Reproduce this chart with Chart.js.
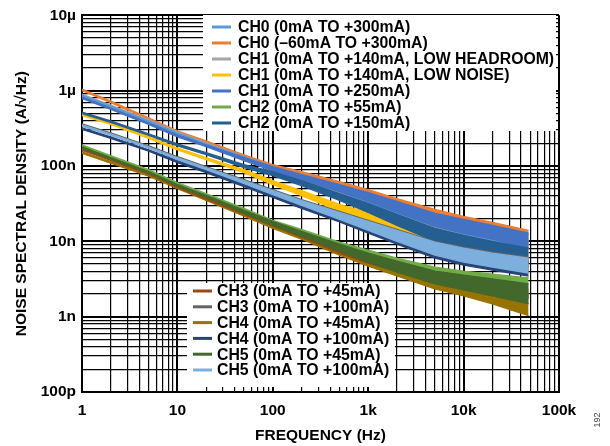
<!DOCTYPE html>
<html>
<head>
<meta charset="utf-8">
<script src="https://cdn.jsdelivr.net/npm/chart.js@4.4.1/dist/chart.umd.min.js"></script>
<style>
  html, body { margin: 0; padding: 0; background: #fff; }
  #wrap { width: 610px; height: 446px; position: relative; }
</style>
</head>
<body>
<div id="wrap"><canvas id="myChart" width="610" height="446"></canvas></div>
<script>
// frequency points (Hz)
const freq = [1, 2, 5, 10, 20, 50, 100, 200, 500, 1000, 2000, 5000, 10000, 20000, 48000];

// upper (hi) and lower (lo) edge of each noise trace, nA/√Hz
const ch0_300_hi = [872, 624, 396, 275, 197, 133, 97.9, 76.8, 56.7, 43.1, 32.8, 23.5, 19.0, 15.8, 12.4];
const ch0_300_lo = [833, 596, 378, 259, 185, 121, 86.7, 66.0, 45.8, 32.8, 23.5, 15.8, 12.4, 10.3, 7.86];
const ch0_60_hi = [1047, 727, 434, 292, 216, 141, 104, 84.1, 62.1, 48.7, 37.0, 26.5, 21.4, 17.9, 14.0];
const ch0_60_lo = [1000, 694, 414, 275, 203, 129, 92.1, 72.2, 50.2, 37.1, 26.5, 17.9, 14.0, 11.7, 8.88];
const ch1_lh_hi = [899, 644, 408, 283, 203, 133, 95.0, 70.1, 48.7, 37.0, 28.2, 19.0, 15.3, 12.8, 10.3];
const ch1_lh_lo = [859, 615, 390, 266, 191, 121, 84.2, 60.2, 39.4, 28.2, 20.2, 12.8, 10.0, 8.37, 6.53];
const ch1_ln_hi = [490, 373, 243, 174, 129, 89.4, 64.0, 47.2, 30.9, 24.2, 18.4, 12.8, 10.3, 8.62, 7.18];
const ch1_ln_lo = [468, 356, 232, 164, 121, 81.6, 56.7, 40.5, 25.0, 18.4, 13.2, 8.63, 6.74, 5.64, 4.55];
const ch1_250_hi = [821, 588, 373, 259, 191, 129, 97.9, 76.8, 56.7, 44.4, 33.8, 23.5, 19.6, 16.3, 12.8];
const ch1_250_lo = [784, 562, 356, 244, 180, 118, 86.7, 66.0, 45.8, 33.8, 24.2, 15.8, 12.8, 10.7, 8.12];
const ch2_55_hi = [191, 137, 89.4, 60.2, 43.1, 27.3, 19.0, 14.4, 9.73, 7.63, 5.98, 4.55, 4.03, 3.68, 3.26];
const ch2_55_lo = [182, 131, 85.4, 56.6, 40.6, 24.9, 16.8, 12.4, 7.86, 5.81, 4.28, 3.07, 2.56, 2.20, 1.78];
const ch2_150_hi = [520, 396, 267, 197, 150, 104, 84.1, 64.0, 43.1, 31.8, 22.8, 14.9, 12.0, 10.0, 8.11];
const ch2_150_lo = [497, 378, 255, 185, 141, 95.0, 74.5, 55.0, 34.8, 24.2, 16.3, 10.0, 7.85, 6.54, 5.14];
const ch3_45_hi = [169, 125, 81.6, 55.0, 38.2, 24.9, 17.9, 13.2, 8.62, 6.56, 5.14, 3.80, 3.26, 2.80, 2.26];
const ch3_45_lo = [161, 119, 77.9, 51.8, 35.9, 22.7, 15.9, 11.3, 6.97, 5.14, 4.03, 2.98, 2.56, 2.20, 1.78];
const ch3_100_hi = [361, 275, 185, 133, 97.9, 66.0, 48.7, 35.9, 24.9, 19.0, 14.4, 10.0, 8.36, 7.18, 6.17];
const ch3_100_lo = [345, 263, 177, 125, 92.1, 60.3, 43.1, 30.8, 20.1, 14.5, 10.3, 6.74, 5.47, 4.70, 3.91];
const ch4_45_hi = [154, 114, 76.8, 53.3, 37.0, 23.5, 16.8, 12.4, 8.11, 6.17, 4.84, 3.46, 2.98, 2.48, 1.89];
const ch4_45_lo = [147, 109, 73.3, 50.2, 34.8, 21.5, 14.9, 10.7, 6.56, 4.69, 3.47, 2.33, 1.89, 1.48, 1.03];
const ch4_100_hi = [320, 243, 164, 117.5, 86.7, 58.4, 43.1, 31.8, 22.4, 16.8, 12.8, 8.88, 7.40, 6.36, 5.46];
const ch4_100_lo = [306, 232, 157, 111, 81.6, 53.3, 38.2, 27.3, 18.1, 12.8, 9.16, 5.99, 4.84, 4.16, 3.46];
const ch5_45_hi = [180, 129, 84.1, 56.7, 40.6, 25.7, 18.4, 13.6, 9.16, 6.97, 5.46, 4.03, 3.57, 3.16, 2.72];
const ch5_45_lo = [172, 123, 80.3, 53.4, 38.2, 23.5, 16.3, 11.7, 7.40, 5.30, 3.91, 2.72, 2.26, 1.89, 1.48];
const ch5_100_hi = [351, 267, 180, 129, 95.0, 64.0, 47.2, 34.8, 24.2, 18.4, 14.0, 9.73, 8.11, 6.97, 5.98];
const ch5_100_lo = [335, 255, 172, 121, 89.4, 58.4, 41.8, 29.9, 19.6, 14.0, 10.0, 6.56, 5.30, 4.56, 3.79];

const xTickValues = [1, 10, 100, 1000, 10000, 100000];
const xTickLabels = ['1', '10', '100', '1k', '10k', '100k'];
const yTickValues = [1e-10, 1e-9, 1e-8, 1e-7, 1e-6, 1e-5];
const yTickLabels = ['100p', '1n', '10n', '100n', '1µ', '10µ'];

const series = {
  ch0_300: { label: 'CH0 (0mA TO +300mA)', color: '#5B9BD5', hi: ch0_300_hi, lo: ch0_300_lo },
  ch0_60: { label: 'CH0 (–60mA TO +300mA)', color: '#ED7D31', hi: ch0_60_hi, lo: ch0_60_lo },
  ch1_lh: { label: 'CH1 (0mA TO +140mA, LOW HEADROOM)', color: '#A5A5A5', hi: ch1_lh_hi, lo: ch1_lh_lo },
  ch1_ln: { label: 'CH1 (0mA TO +140mA, LOW NOISE)', color: '#FFC000', hi: ch1_ln_hi, lo: ch1_ln_lo },
  ch1_250: { label: 'CH1 (0mA TO +250mA)', color: '#4472C4', hi: ch1_250_hi, lo: ch1_250_lo },
  ch2_55: { label: 'CH2 (0mA TO +55mA)', color: '#70AD47', hi: ch2_55_hi, lo: ch2_55_lo },
  ch2_150: { label: 'CH2 (0mA TO +150mA)', color: '#255E91', hi: ch2_150_hi, lo: ch2_150_lo },
  ch3_45: { label: 'CH3 (0mA TO +45mA)', color: '#9E480E', hi: ch3_45_hi, lo: ch3_45_lo },
  ch3_100: { label: 'CH3 (0mA TO +100mA)', color: '#636363', hi: ch3_100_hi, lo: ch3_100_lo },
  ch4_45: { label: 'CH4 (0mA TO +45mA)', color: '#997300', hi: ch4_45_hi, lo: ch4_45_lo },
  ch4_100: { label: 'CH4 (0mA TO +100mA)', color: '#264478', hi: ch4_100_hi, lo: ch4_100_lo },
  ch5_45: { label: 'CH5 (0mA TO +45mA)', color: '#43682B', hi: ch5_45_hi, lo: ch5_45_lo },
  ch5_100: { label: 'CH5 (0mA TO +100mA)', color: '#7CAFDD', hi: ch5_100_hi, lo: ch5_100_lo }
};
const legendTop = ['ch0_300', 'ch0_60', 'ch1_lh', 'ch1_ln', 'ch1_250', 'ch2_55', 'ch2_150'];
const legendBottom = ['ch3_45', 'ch3_100', 'ch4_45', 'ch4_100', 'ch5_45', 'ch5_100'];

// stacking: first = painted first (underneath)
const paintOrder = ['ch0_60', 'ch1_lh', 'ch0_300', 'ch1_250', 'ch1_ln', 'ch2_150', 'ch4_100',
  'ch3_100', 'ch5_100', 'ch2_55', 'ch4_45', 'ch3_45', 'ch5_45'];

const FONT = '"Liberation Sans", Arial, sans-serif';

const datasets = [];
paintOrder.forEach((key, rank) => {
  const s = series[key];
  const ord = paintOrder.length - rank;
  const pts = arr => arr.map((v, i) => ({ x: freq[i], y: v * 1e-9 }));
  datasets.push({
    label: s.label, data: pts(s.hi), borderColor: s.color, backgroundColor: s.color,
    borderWidth: 1.3, pointRadius: 0, fill: '+1', order: ord
  });
  datasets.push({
    label: s.label + ' lo', data: pts(s.lo), borderColor: s.color, backgroundColor: s.color,
    borderWidth: 1.3, pointRadius: 0, fill: false, order: ord
  });
});

const isDecade = v => Math.abs(Math.log10(v) - Math.round(Math.log10(v))) < 1e-6;

function logTicks(minExp, maxExp) {
  const t = [];
  for (let e = minExp; e < maxExp; e++) {
    for (let m = 1; m <= 9; m++) t.push({ value: m * Math.pow(10, e) });
  }
  t.push({ value: Math.pow(10, maxExp) });
  return t;
}

function labelFor(values, labels, v) {
  for (let i = 0; i < values.length; i++) {
    if (Math.abs(Math.log10(v) - Math.log10(values[i])) < 1e-6) return labels[i];
  }
  return '';
}

const boxLegends = {
  id: 'boxLegends',
  afterDatasetsDraw(chart) {
    const ctx = chart.ctx;
    const boxes = [
      { keys: legendTop, x: 203, y: 15, w: 353, h: 116, row0: 27, step: 16, l0: 212, l1: 231, tx: 238 },
      { keys: legendBottom, x: 187, y: 283, w: 208, h: 104, row0: 291, step: 15.8, l0: 193, l1: 212, tx: 217 }
    ];
    ctx.save();
    boxes.forEach(b => {
      ctx.fillStyle = '#fff';
      ctx.fillRect(b.x, b.y, b.w, b.h);
      ctx.font = 'bold 15.8px ' + FONT;
      ctx.textBaseline = 'middle';
      ctx.textAlign = 'left';
      b.keys.forEach((k, i) => {
        const y = b.row0 + i * b.step;
        ctx.strokeStyle = series[k].color;
        ctx.lineWidth = 3;
        ctx.beginPath();
        ctx.moveTo(b.l0, y);
        ctx.lineTo(b.l1, y);
        ctx.stroke();
        ctx.fillStyle = '#000';
        ctx.fillText(series[k].label, b.tx, y + 1);
      });
    });
    // figure number at the right edge
    ctx.translate(598, 420);
    ctx.rotate(-Math.PI / 2);
    ctx.font = '9px ' + FONT;
    ctx.fillStyle = '#444';
    ctx.textAlign = 'center';
    ctx.fillText('192', 0, 0);
    ctx.restore();
  }
};

const ctx = document.getElementById('myChart').getContext('2d');
new Chart(ctx, {
  type: 'line',
  data: { datasets },
  options: {
    responsive: false,
    animation: false,
    devicePixelRatio: 1,
    layout: { padding: { top: 14, right: 51, bottom: 0, left: 0 } },
    plugins: {
      legend: { display: false },
      tooltip: { enabled: false },
      filler: { drawTime: 'beforeDatasetDraw' }
    },
    elements: { line: { tension: 0 } },
    scales: {
      x: {
        type: 'logarithmic', min: 1, max: 100000,
        afterBuildTicks: s => { s.ticks = logTicks(0, 5); },
        afterFit: s => { s.height = 54; },
        grid: {
          color: '#000', drawTicks: false,
          lineWidth: c => (c.tick && isDecade(c.tick.value)) ? 2 : 1.2
        },
        border: { display: true, color: '#000', width: 2 },
        ticks: {
          autoSkip: false, maxRotation: 0, padding: 9, color: '#000',
          font: { family: FONT, size: 15.5, weight: 'bold' },
          callback: v => labelFor(xTickValues, xTickLabels, v)
        },
        title: {
          display: true, text: 'FREQUENCY (Hz)', color: '#000',
          font: { family: FONT, size: 15.5, weight: 'bold' },
          padding: { top: 0, bottom: 1 }
        }
      },
      y: {
        type: 'logarithmic', min: 1e-10, max: 1e-5,
        afterBuildTicks: s => { s.ticks = logTicks(-10, -5); },
        afterFit: s => { s.width = 82; },
        grid: {
          color: '#000', drawTicks: false,
          lineWidth: c => (c.tick && isDecade(c.tick.value)) ? 2 : 1.2
        },
        border: { display: true, color: '#000', width: 2 },
        ticks: {
          autoSkip: false, padding: 6, color: '#000',
          font: { family: FONT, size: 15.5, weight: 'bold' },
          callback: v => labelFor(yTickValues, yTickLabels, v)
        },
        title: {
          display: true, text: 'NOISE SPECTRAL DENSITY (A/√Hz)', color: '#000',
          font: { family: FONT, size: 15.5, weight: 'bold' },
          padding: { top: 12, bottom: 0 }
        }
      }
    }
  },
  plugins: [boxLegends]
});
</script>
</body>
</html>
